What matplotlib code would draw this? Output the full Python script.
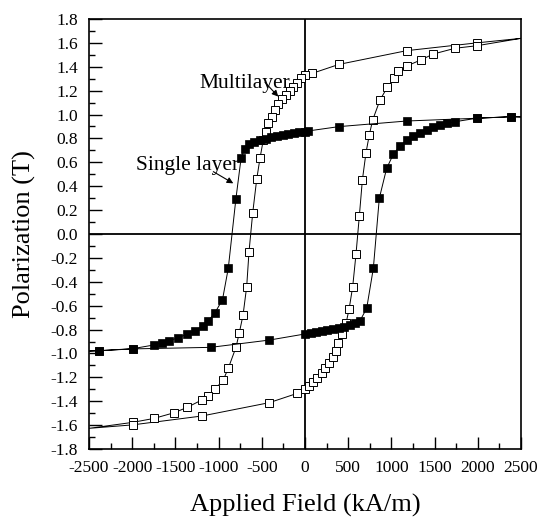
import matplotlib
matplotlib.use("Agg")
import matplotlib.pyplot as plt
from matplotlib.ticker import MultipleLocator, FixedLocator

plt.rcParams['font.family'] = ['Liberation Serif', 'DejaVu Serif']
plt.rcParams['axes.unicode_minus'] = False

# Single layer (filled squares): descending then ascending branch
single_H = [2500, 2384, 1987, 1177, 393, 30, 0, -65, -130, -195, -260, -325, -390, -455,
            -520, -585, -645, -700, -740, -800, -888, -955, -1042, -1119, -1184, -1273,
            -1370, -1466, -1570, -1659, -1748, -1994, -2381, -2500,
            -2381, -1994, -1092, -413, 0, 65, 130, 195, 260, 325, 390, 455, 520, 580, 637,
            714, 791, 860, 945, 1022, 1100, 1177, 1254, 1331, 1408, 1485, 1562, 1640,
            1736, 1987, 2384, 2500]
single_J = [0.98, 0.982, 0.969, 0.946, 0.899, 0.862, 0.857, 0.850, 0.843, 0.835, 0.827,
            0.818, 0.808, 0.797, 0.784, 0.770, 0.750, 0.715, 0.634, 0.293, -0.287,
            -0.55, -0.659, -0.726, -0.77, -0.81, -0.84, -0.868, -0.893, -0.91, -0.929,
            -0.96, -0.977, -0.98,
            -0.977, -0.962, -0.949, -0.888, -0.837, -0.830, -0.822, -0.814, -0.806,
            -0.797, -0.787, -0.776, -0.763, -0.748, -0.726, -0.622, -0.287, 0.299, 0.55,
            0.667, 0.737, 0.787, 0.82, 0.848, 0.871, 0.893, 0.91, 0.927, 0.94, 0.969,
            0.982, 0.98]

# Multilayer (open squares): descending then ascending branch
multi_H = [2500, 1987, 1177, 393, 84, 0, -50, -89, -135, -174, -220, -270, -309, -347,
           -386, -425, -451, -483, -521, -559, -605, -648, -675, -717, -760, -799, -888,
           -946, -1042, -1119, -1196, -1362, -1513, -1748, -1994, -2500,
           -1994, -1196, -413, -89, 0, 50, 96, 143, 193, 231, 278, 321, 359, 386, 432,
           475, 511, 552, 590, 629, 664, 706, 744, 783, 868, 953, 1030, 1080, 1177, 1339,
           1486, 1737, 1987, 2500]
multi_J = [1.638, 1.60, 1.535, 1.42, 1.345, 1.331, 1.303, 1.267, 1.233, 1.20, 1.166,
           1.128, 1.088, 1.038, 0.982, 0.927, 0.857, 0.787, 0.634, 0.458, 0.178, -0.148,
           -0.441, -0.678, -0.826, -0.949, -1.124, -1.222, -1.30, -1.356, -1.39, -1.451,
           -1.496, -1.544, -1.577, -1.627,
           -1.598, -1.524, -1.412, -1.334, -1.30, -1.273, -1.237, -1.203, -1.167, -1.125,
           -1.083, -1.033, -0.977, -0.91, -0.837, -0.748, -0.626, -0.441, -0.17, 0.151,
           0.452, 0.681, 0.829, 0.954, 1.122, 1.228, 1.303, 1.367, 1.406, 1.457, 1.507,
           1.555, 1.576, 1.638]

x_ticks = [-2500, -2000, -1500, -1000, -500, 0, 500, 1000, 1500, 2000, 2500]
y_ticks = [-1.8, -1.6, -1.4, -1.2, -1.0, -0.8, -0.6, -0.4, -0.2, 0.0, 0.2, 0.4, 0.6,
           0.8, 1.0, 1.2, 1.4, 1.6, 1.8]

fig = plt.figure(figsize=(5.37, 5.23), dpi=100)
ax = fig.add_axes([89/537, 1 - 449/523, 432/537, 430/523])

ax.axhline(0, color='black', lw=1.3, zorder=1)
ax.axvline(0, color='black', lw=1.3, zorder=1)

def markevery_inner(n, ends):
    return [i for i in range(n) if i not in ends]

ax.plot(multi_H, multi_J, color='black', lw=0.7, zorder=2,
        marker='s', markersize=5.5, markerfacecolor='white', markeredgecolor='black',
        markeredgewidth=0.7,
        markevery=markevery_inner(len(multi_H), {0, 35, len(multi_H) - 1}))
ax.plot(single_H, single_J, color='black', lw=0.7, zorder=3,
        marker='s', markersize=5.4, markerfacecolor='black', markeredgecolor='black',
        markeredgewidth=0.5,
        markevery=markevery_inner(len(single_H), {0, 33, len(single_H) - 1}))

ax.set_xlim(-2500, 2500)
ax.set_ylim(-1.8, 1.8)
ax.xaxis.set_major_locator(FixedLocator(x_ticks))
ax.yaxis.set_major_locator(FixedLocator(y_ticks))
ax.xaxis.set_minor_locator(MultipleLocator(250))
ax.yaxis.set_minor_locator(MultipleLocator(0.1))
ax.set_xticklabels([str(v) for v in x_ticks])
ax.set_yticklabels([f"{v:.1f}" for v in y_ticks])
ax.tick_params(which='both', direction='in', top=False, right=False, width=1.0,
               labelsize=12.5, colors='black')
ax.tick_params(which='major', length=9, pad=8)
ax.tick_params(which='minor', length=4.5)
for s in ax.spines.values():
    s.set_linewidth(1.2)

ax.set_xlabel('Applied Field (kA/m)', fontsize=19, labelpad=13)
ax.set_ylabel('Polarization (T)', fontsize=19, labelpad=10)

ax.text(-700, 1.225, 'Multilayer', fontsize=15.5, ha='center', va='baseline')
ax.text(-1354, 0.536, 'Single layer', fontsize=15.5, ha='center', va='baseline')
ax.annotate('', xy=(-309, 1.15), xytext=(-463, 1.27),
            arrowprops=dict(arrowstyle='-|>', color='black', lw=0.8,
                            mutation_scale=9, shrinkA=0, shrinkB=0))
ax.annotate('', xy=(-830, 0.424), xytext=(-1061, 0.522),
            arrowprops=dict(arrowstyle='-|>', color='black', lw=0.8,
                            mutation_scale=9, shrinkA=0, shrinkB=0))

fig.savefig('out.png', dpi=100)
